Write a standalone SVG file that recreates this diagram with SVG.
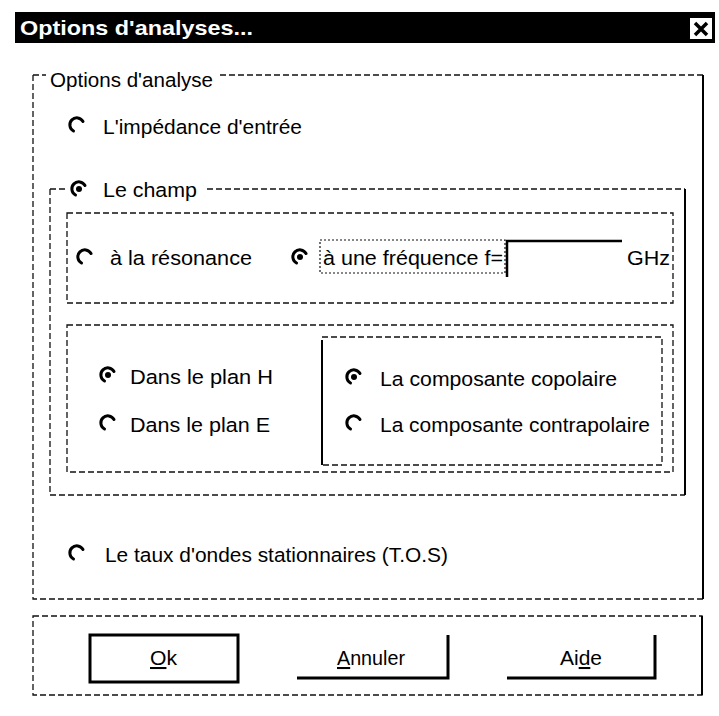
<svg xmlns="http://www.w3.org/2000/svg" width="719" height="716" viewBox="0 0 719 716">
<style>
.t{font-family:"Liberation Sans",Arial,sans-serif;font-size:20.5px;fill:#000}
.etch{fill:none;stroke:#111;stroke-width:1.3;stroke-dasharray:6 3}
.dot{fill:none;stroke:#111;stroke-width:1.2;stroke-dasharray:2 2}
.solid{fill:none;stroke:#000;stroke-width:2}
.radio{fill:none;stroke:#000;stroke-width:3;stroke-linecap:round}
.btn{fill:none;stroke:#000;stroke-width:3}
</style>
<defs>
<path id="rad" d="M -3.5 6 A 7 7 0 1 1 6 -3.5" class="radio"/>
</defs>
<rect width="719" height="716" fill="#fff"/>
<g id="titlebar">
<rect x="15" y="12" width="700" height="31" fill="#000"/>
<text x="20" y="35" font-family="Liberation Sans, Arial, sans-serif" font-size="21" font-weight="bold" fill="#fff" textLength="233" lengthAdjust="spacingAndGlyphs">Options d'analyses...</text>
<rect x="690" y="18" width="22" height="21" fill="#fff"/>
<path d="M695 23 L707 35 M707 23 L695 35" stroke="#000" stroke-width="3.5"/>
</g>
<g id="group-options">
<path class="etch" d="M33 75 H46 M220 75 H703 M33 75 V599 H703"/>
<path class="solid" d="M703 75 V599"/>
<text class="t" x="50" y="87" textLength="163" lengthAdjust="spacingAndGlyphs">Options d'analyse</text>
</g>
<g id="radio-impedance">
<use href="#rad" x="77" y="125"/>
<text class="t" x="103" y="134" textLength="199" lengthAdjust="spacingAndGlyphs">L'impédance d'entrée</text>
</g>
<g id="group-champ">
<path class="etch" d="M50 189 H68 M207 189 H685 M50 189 V495 H685"/>
<path class="solid" d="M685 189 V495"/>
<use href="#rad" x="79" y="189"/>
<circle cx="79" cy="189" r="3" fill="#000"/>
<text class="t" x="103" y="197" textLength="94" lengthAdjust="spacingAndGlyphs">Le champ</text>
</g>
<g id="frame-frequence">
<rect class="etch" x="67" y="213" width="606" height="90"/>
<use href="#rad" x="85" y="257"/>
<text class="t" x="110" y="265" textLength="142" lengthAdjust="spacingAndGlyphs">à la résonance</text>
<use href="#rad" x="300" y="257"/>
<circle cx="300" cy="257" r="3" fill="#000"/>
<rect class="dot" x="320" y="240" width="185" height="33"/>
<text class="t" x="323" y="265" textLength="180" lengthAdjust="spacingAndGlyphs">à une fréquence f=</text>
<path d="M507 277 V241 H622" fill="none" stroke="#000" stroke-width="2.5"/>
<text class="t" x="627" y="265" textLength="43" lengthAdjust="spacingAndGlyphs">GHz</text>
</g>
<g id="frame-plan">
<rect class="etch" x="67" y="325" width="606" height="147"/>
<use href="#rad" x="108" y="375"/>
<circle cx="108" cy="375" r="3" fill="#000"/>
<text class="t" x="130" y="384" textLength="143" lengthAdjust="spacingAndGlyphs">Dans le plan H</text>
<use href="#rad" x="108" y="423"/>
<text class="t" x="130" y="432" textLength="140" lengthAdjust="spacingAndGlyphs">Dans le plan E</text>
</g>
<g id="frame-composante">
<rect class="etch" x="322" y="337" width="340" height="128"/>
<path class="solid" d="M322 340 V465"/>
<use href="#rad" x="354" y="377"/>
<circle cx="354" cy="377" r="3" fill="#000"/>
<text class="t" x="380" y="386" textLength="237" lengthAdjust="spacingAndGlyphs">La composante copolaire</text>
<use href="#rad" x="354" y="423"/>
<text class="t" x="380" y="432" textLength="270" lengthAdjust="spacingAndGlyphs">La composante contrapolaire</text>
</g>
<g id="radio-tos">
<use href="#rad" x="77" y="553"/>
<text class="t" x="105" y="562" textLength="343" lengthAdjust="spacingAndGlyphs">Le taux d'ondes stationnaires (T.O.S)</text>
</g>
<g id="group-buttons">
<rect class="etch" x="33" y="616" width="669" height="79"/>
<path class="solid" d="M702 616 V695"/>
</g>
<g id="btn-ok">
<rect class="btn" x="90" y="635" width="148" height="47"/>
<text class="t" x="150" y="665" textLength="27" lengthAdjust="spacingAndGlyphs"><tspan text-decoration="underline">O</tspan>k</text>
</g>
<g id="btn-annuler">
<path class="btn" d="M297 678 H448 V635"/>
<text class="t" x="337" y="665" textLength="68" lengthAdjust="spacingAndGlyphs"><tspan text-decoration="underline">A</tspan>nnuler</text>
</g>
<g id="btn-aide">
<path class="btn" d="M507 678 H655 V635"/>
<text class="t" x="560" y="665" textLength="42" lengthAdjust="spacingAndGlyphs">Ai<tspan text-decoration="underline">d</tspan>e</text>
</g>
</svg>
